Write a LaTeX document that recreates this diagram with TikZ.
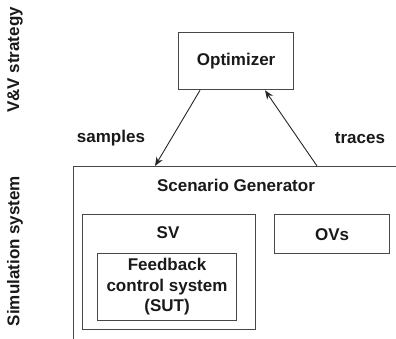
\documentclass[tikz,border=0pt]{standalone}
\usepackage{fontspec}
\setmainfont{Liberation Sans}
\usetikzlibrary{arrows.meta}
\begin{document}
\begin{tikzpicture}[x=1pt,y=-1pt,
  every node/.style={font=\fontsize{17}{20.5}\selectfont\bfseries, text=black!90},
  box/.style={draw=black!72, line width=1.3pt, inner sep=0pt},
  arr/.style={draw=black!85, line width=0.9pt, -{Stealth[length=9pt,width=7pt]}}]
\useasboundingbox (0,0) rectangle (396,338);
\clip (0,0) rectangle (396,338);
\node[box, anchor=north west, minimum width=360pt, minimum height=200pt] (scen) at (73,166) {};
\node[box, anchor=north west, minimum width=115pt, minimum height=57pt] (opt) at (178,32) {};
\node at (opt.center) (optl) {Optimizer};
\node[box, anchor=north west, minimum width=173pt, minimum height=115pt] (sv) at (82,214) {};
\node[box, anchor=north west, minimum width=139pt, minimum height=67pt] (sut) at (97,253) {};
\node[box, anchor=north west, minimum width=115pt, minimum height=39pt] (ovs) at (274,214) {};
\node (scenl) at (236,185) {Scenario Generator};
\node (svl) at (168,233) {SV};
\node (ovsl) at (ovs.center) {OVs};
\node[align=center] (sutl) at (167,287) {Feedback\\control system\\(SUT)};
\node (samp) at (111,138) {samples};
\node (trac) at (360,138) {traces};
\node[rotate=90] (vv) at (15,60) {V\&V strategy};
\node[rotate=90] (sim) at (15,251) {Simulation system};
\draw[arr] ([xshift=22pt]opt.south west) -- ([xshift=82pt]scen.north west);
\draw[arr] ([xshift=244pt]scen.north west) -- ([xshift=87pt]opt.south west);
\end{tikzpicture}
\end{document}
